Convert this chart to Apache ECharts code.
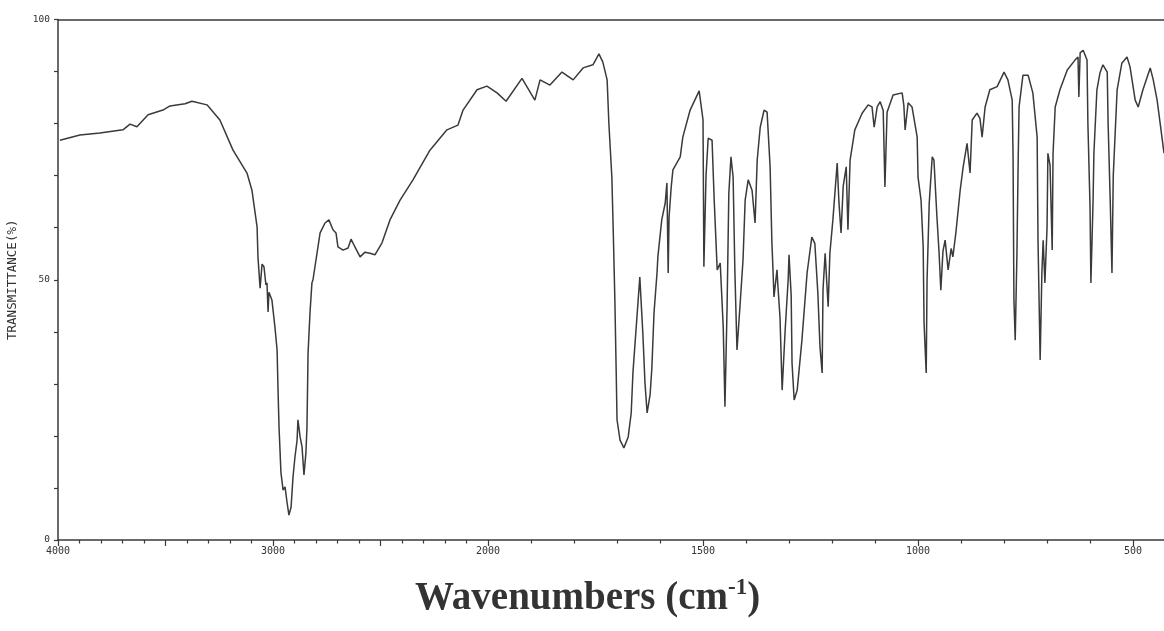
<!DOCTYPE html>
<html><head><meta charset="utf-8">
<script src="https://cdn.jsdelivr.net/npm/echarts@6/dist/echarts.min.js"></script>
<style>html,body{margin:0;padding:0;background:#fff}#c{width:1164px;height:631px}</style>
</head><body><div id="c"></div>
<script>
// Wavenumbers (cm-1)
const wavenumbers = [3991,3898,3805,3698,3665,3633,3581,3512,3479,3409,3377,3307,3247,3186,3121,3098,3074,3070,3060,3051,3042,3033,3028,3023,3019,3005,2991,2981,2977,2972,2963,2953,2944,2935,2926,2916,2907,2898,2888,2884,2874,2865,2856,2847,2842,2837,2828,2819,2814,2781,2758,2740,2721,2707,2698,2674,2651,2637,2628,2619,2595,2572,2549,2526,2493,2456,2409,2349,2270,2191,2140,2116,2051,2005,
1979,1958,1921,1891,1879,1856,1828,1802,1779,1756,
1742,1733,1723,1719,1712,1709,1705,1702,1700,1693,
1684,1674,1667,1663,1653,1647,1640,1635,1630,1623,
1619,1614,1607,1605,1596,1588,1584,1581,1579,1574,
1570,1553,1547,1530,1509,1500,1498,1493,1488,1479,
1474,1467,1460,1453,1449,1444,1440,1435,1430,1426,
1421,1414,1407,1402,1395,1386,1379,1374,1367,1358,
1351,1344,1340,1337,1335,1328,1326,1321,1316,1309,
1302,1300,1295,1293,1288,1281,1270,1258,1247,1240,
1233,1228,1223,1221,1216,1209,1205,1198,1188,1184,
1179,1174,1167,1163,1158,1147,1130,1116,1107,1102,
1095,1088,1081,1077,1072,1058,1037,1033,1030,1023,
1014,1002,1000,993,988,986,981,979,974,967,
963,956,951,947,942,937,930,923,919,912,
902,895,886,879,874,863,856,851,844,833,
816,800,791,781,779,777,774,770,767,765,
756,744,733,723,721,716,712,709,705,700,
698,693,688,686,681,670,653,635,628,626,
623,616,607,605,600,598,593,591,584,577,
570,560,558,553,549,546,537,526,514,507,
495,488,477,460,453,444,437,428];

// Transmittance (%)
const transmittance = [76.8,77.8,78.2,78.8,79.9,79.4,81.7,82.6,83.4,83.8,84.3,83.6,80.7,74.9,70.5,67.2,60.1,54.4,48.4,53.0,52.5,49.0,49.4,43.8,47.6,46.1,40.9,36.5,29.4,21.7,12.9,9.6,10.2,7.3,4.8,6.3,12.1,15.9,19.2,23.1,19.8,17.9,12.5,16.7,21.7,35.9,43.6,49.4,50.0,59.0,60.9,61.5,59.6,59.0,56.3,55.7,56.1,57.8,57.6,56.3,54.4,55.3,55.1,54.8,57.1,61.5,65.3,69.2,74.9,78.8,79.7,82.6,86.5,87.2,
85.9,84.3,88.7,84.5,88.4,87.4,89.9,88.4,90.7,91.3,
93.4,91.8,88.4,80.1,69.7,60.1,46.1,32.7,23.1,19.2,
17.7,19.8,24.4,32.1,43.6,50.5,39.8,30.2,24.4,28.0,
33.0,43.6,51.3,54.4,61.5,64.7,68.6,51.3,62.0,67.8,
71.1,73.6,77.4,82.6,86.3,80.7,52.5,70.0,77.2,76.8,
65.3,51.9,53.2,40.9,25.6,45.0,66.6,73.6,69.7,51.9,
36.5,45.0,53.8,65.3,69.2,67.2,60.9,73.0,79.3,82.6,
82.2,71.7,57.6,51.3,46.7,51.9,49.0,42.8,28.8,40.3,
50.0,54.8,47.0,34.0,26.9,28.8,38.4,51.3,58.2,57.0,
47.5,37.1,32.1,48.0,55.1,44.8,55.1,61.5,72.4,65.0,
59.0,68.0,71.7,59.6,73.0,78.8,82.0,83.6,83.2,79.3,
83.2,84.2,82.5,67.8,82.2,85.5,85.9,83.5,78.8,84.0,
83.2,77.4,69.7,65.3,56.3,41.7,32.1,50.0,64.7,73.6,
73.0,62.0,55.1,48.0,55.5,57.6,51.9,56.0,54.4,59.0,
67.2,71.7,76.2,70.5,80.7,82.0,81.0,77.4,83.2,86.5,
87.1,89.9,88.4,84.5,73.6,46.1,38.4,55.0,73.6,83.2,
89.3,89.3,85.9,77.4,57.6,34.6,51.3,57.6,49.4,60.0,
74.3,72.0,55.7,74.3,83.2,86.5,90.3,92.2,92.8,85.1,
93.6,94.1,92.2,80.1,64.0,49.4,65.0,74.3,86.5,89.7,
91.3,89.9,80.1,65.0,51.3,70.0,86.5,91.6,92.8,90.9,
84.5,83.2,86.5,90.7,88.4,84.5,80.1,74.3];

const xTickLabels = [4000,3000,2000,1500,1000,500];
const xMajorTicks = [4000,3500,3000,2500,2000,1500,1000,500];
const xMinorTicks = [3900,3800,3700,3600,3400,3300,3200,3100,2900,2800,2700,2600,2400,2300,2200,2100,1900,1800,1700,1600,1400,1300,1200,1100,900,800,700,600];
const yTickLabels = [0,50,100];

// Spectrometer chart: scale above 2000 cm-1 is half the scale below it.
function toPos(w){ return w >= 2000 ? (4000 - w) / 2 : 1000 + (2000 - w); }
function fromPos(p){ return p <= 1000 ? 4000 - 2 * p : 3000 - p; }

const seriesData = wavenumbers.map((w, i) => [toPos(w), transmittance[i]]);
const X_MAX = 2572;
const axisColor = '#3a3a3a';
const monoFont = 'DejaVu Sans Mono';

const chart = echarts.init(document.getElementById('c'), null, {renderer: 'canvas'});
chart.setOption({
  animation: false,
  backgroundColor: '#ffffff',
  title: {
    text: '{a|Wavenumbers (cm}{b|-1}{a|)}',
    left: 410, top: 572,
    textStyle: {
      rich: {
        a: {fontFamily: 'Liberation Serif', fontWeight: 'bold', fontSize: 39, color: '#333', lineHeight: 44},
        b: {fontFamily: 'Liberation Serif', fontWeight: 'bold', fontSize: 23, color: '#333', verticalAlign: 'top', lineHeight: 44}
      }
    }
  },
  grid: {left: 58, right: 0, top: 19.5, bottom: 91, containLabel: false, outerBoundsMode: 'none'},
  xAxis: [
    {
      type: 'value', min: 0, max: X_MAX, position: 'bottom',
      axisLine: {lineStyle: {color: axisColor, width: 1.5}},
      axisTick: {customValues: xMajorTicks.map(toPos), length: 6, lineStyle: {color: axisColor, width: 1.2}},
      axisLabel: {customValues: xTickLabels.map(toPos), formatter: v => String(Math.round(fromPos(v))),
                  fontSize: 10, color: '#333', margin: 6, fontFamily: monoFont},
      splitLine: {show: false}
    },
    {
      type: 'value', min: 0, max: X_MAX, position: 'bottom',
      axisLine: {show: false},
      axisTick: {customValues: xMinorTicks.map(toPos), length: 3.5, lineStyle: {color: axisColor, width: 1.2}},
      axisLabel: {show: false},
      splitLine: {show: false}
    },
    {
      type: 'value', min: 0, max: X_MAX, position: 'top',
      axisLine: {lineStyle: {color: axisColor, width: 1.5}},
      axisTick: {show: false}, axisLabel: {show: false}, splitLine: {show: false}
    }
  ],
  yAxis: {
    type: 'value', min: 0, max: 100, interval: 10,
    name: 'TRANSMITTANCE(%)', nameLocation: 'middle', nameGap: 39, nameRotate: 90,
    nameTextStyle: {fontSize: 12.5, color: '#333', fontFamily: monoFont},
    axisLine: {show: true, lineStyle: {color: axisColor, width: 1.5}},
    axisTick: {show: true, length: 4, lineStyle: {color: axisColor, width: 1.2}},
    axisLabel: {customValues: yTickLabels, fontSize: 9.5, color: '#333', margin: 8, fontFamily: monoFont},
    splitLine: {show: false}
  },
  series: [{
    type: 'line', xAxisIndex: 0, data: seriesData,
    symbol: 'none', showSymbol: false, smooth: false,
    lineStyle: {color: '#3a3a3a', width: 1.5}
  }]
});
</script>
</body></html>
